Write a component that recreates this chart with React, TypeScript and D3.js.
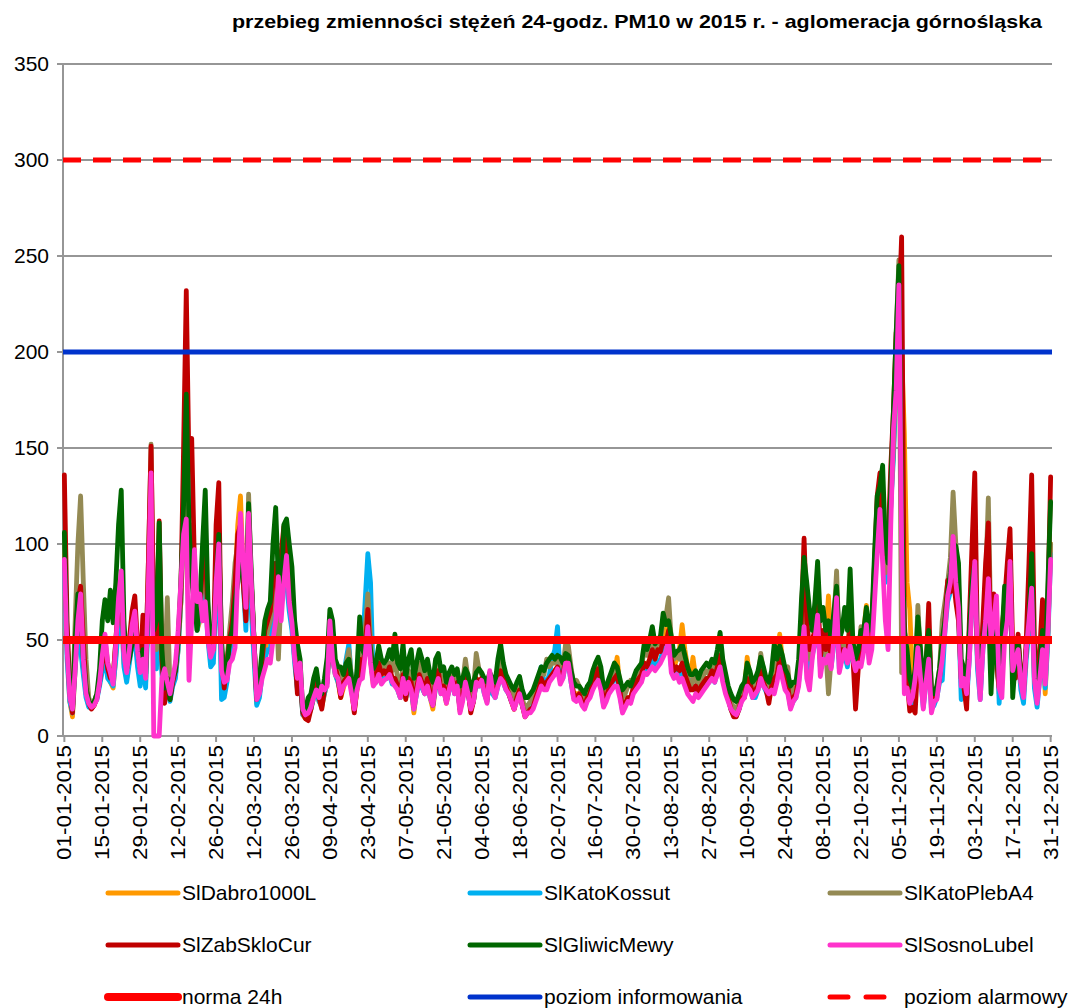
import { useEffect, useRef } from "react";
import * as d3 from "d3";

const title =
  "przebieg zmienności stężeń 24-godz. PM10 w 2015 r. - aglomeracja górnośląska";

// one value per day, 01-01-2015 .. 31-12-2015
const days = d3.timeDay.range(new Date(2015, 0, 1), new Date(2016, 0, 1));
const yTicks = [0, 50, 100, 150, 200, 250, 300, 350];
const labelStep = 14;

// SlDabro1000L
const slDabro1000L = [
  95, 45, 18, 10, 35, 55, 50, 35, 22, 16, 15, 16, 20, 28, 35, 42, 32, 28, 25, 42, 60, 70, 38, 30, 40, 50, 55, 40, 30, 40, 28,
  70, 110, 50, 40, 80, 35, 20, 28, 20, 28, 32, 45, 70, 110, 150, 90, 100, 80, 55, 60, 70, 80, 55, 40, 42, 75, 95, 30,
  22, 30, 45, 55, 80, 110, 125, 85, 60, 100, 70, 45, 17, 22, 35, 45, 50, 50, 65, 75, 60, 70, 90, 85, 70, 60, 40, 25, 30, 11, 9,
  10, 14, 20, 25, 18, 15, 22, 28, 50, 40, 32, 28, 20, 25, 30, 35, 24, 13, 24, 35, 35, 45, 60, 40, 27, 28, 35, 30, 32, 30,
  34, 28, 30, 25, 20, 30, 20, 28, 26, 12, 24, 30, 26, 22, 28, 20, 14, 26, 32, 24, 25, 17, 25, 30, 24, 28, 13, 20, 30, 24, 14,
  18, 30, 28, 30, 24, 18, 32, 25, 21, 28, 33, 30, 26, 22, 18, 14, 20, 24, 16, 11, 12, 14, 15, 20, 24, 30, 26, 28, 30, 32,
  34, 36, 30, 32, 40, 40, 30, 20, 22, 22, 18, 16, 20, 22, 28, 32, 35, 28, 18, 20, 25, 28, 32, 41, 26, 14, 17, 20, 20, 25, 28,
  30, 32, 38, 36, 40, 45, 40, 45, 46, 52, 55, 60, 42, 36, 40, 45, 58, 45, 36, 30, 41, 30, 24, 26, 28, 30, 30, 34, 30, 36, 42,
  32, 26, 20, 14, 11, 11, 15, 20, 24, 41, 30, 22, 24, 26, 35, 28, 24, 20, 28, 34, 36, 53, 40, 30, 28, 16, 20, 22, 30, 50,
  80, 45, 35, 45, 50, 70, 40, 50, 50, 73, 45, 55, 75, 40, 45, 45, 40, 60, 45, 30, 40, 50, 55, 68, 45, 55, 80, 110, 125, 110, 85,
  95, 125, 150, 190, 210, 200, 158, 80, 66, 30, 30, 50, 35, 20, 32, 50, 18, 18, 24, 32, 45, 60, 75, 80, 95, 80, 70, 28, 28, 20,
  45, 80, 95, 40, 22, 50, 70, 90, 45, 60, 65, 22, 50, 60, 70, 95, 35, 40, 50, 28, 22, 45, 60, 85, 35, 20, 35, 50, 22, 55, 100,
];

// SlKatoKossut
const slKatoKossut = [
  90, 40, 18, 12, 35, 55, 45, 32, 20, 15, 16, 17, 19, 26, 34, 40, 30, 28, 26, 40, 58, 68, 36, 28, 38, 48, 52, 36, 26, 38, 25,
  65, 100, 45, 35, 75, 32, 18, 25, 18, 26, 30, 45, 70, 120, 198, 95, 90, 75, 55, 64, 65, 75, 50, 36, 38, 70, 90, 19,
  20, 28, 42, 50, 70, 90, 105, 80, 55, 100, 65, 40, 16, 20, 32, 40, 45, 45, 60, 70, 55, 65, 85, 80, 65, 55, 38, 24, 28, 11, 10,
  11, 14, 20, 24, 18, 16, 22, 28, 50, 40, 32, 28, 22, 30, 40, 48, 28, 14, 26, 38, 45, 70, 95, 80, 30, 28, 34, 28, 30, 30,
  32, 27, 28, 24, 20, 28, 20, 26, 24, 14, 22, 28, 25, 22, 27, 20, 16, 25, 30, 22, 24, 18, 24, 28, 22, 26, 14, 20, 28, 22, 14,
  18, 28, 26, 28, 22, 18, 30, 22, 20, 26, 30, 28, 24, 22, 18, 15, 20, 22, 16, 11, 13, 14, 16, 22, 30, 36, 28, 28, 32, 40,
  45, 57, 32, 30, 38, 38, 28, 20, 20, 21, 17, 15, 19, 21, 26, 30, 32, 26, 16, 19, 24, 27, 30, 30, 22, 13, 16, 19, 18, 24, 27,
  28, 30, 36, 34, 36, 40, 37, 38, 40, 45, 46, 52, 36, 32, 34, 32, 34, 30, 28, 29, 26, 24, 21, 24, 26, 28, 28, 32, 28, 33, 38,
  30, 24, 19, 14, 11, 11, 14, 19, 21, 28, 26, 20, 20, 24, 32, 26, 23, 20, 25, 26, 30, 38, 32, 26, 24, 15, 18, 20, 28, 45,
  70, 40, 30, 42, 48, 60, 36, 45, 40, 45, 36, 48, 68, 35, 40, 42, 36, 50, 40, 28, 36, 40, 45, 60, 40, 50, 80, 105, 120, 105, 80,
  90, 120, 145, 185, 200, 150, 40, 28, 18, 16, 22, 45, 30, 15, 28, 40, 14, 16, 20, 28, 29, 55, 70, 75, 95, 75, 65, 19, 24, 18,
  40, 75, 85, 35, 19, 45, 60, 80, 40, 55, 60, 17, 40, 55, 65, 85, 30, 35, 42, 24, 17, 40, 55, 75, 25, 15, 30, 45, 25, 50, 95,
];

// SlKatoPlebA4
const slKatoPlebA4 = [
  100, 50, 22, 15, 60, 100, 125, 80, 40, 20, 16, 18, 22, 30, 40, 50, 38, 32, 30, 50, 70, 75, 45, 34, 45, 55, 60, 45, 34, 45, 32,
  90, 152, 55, 45, 80, 40, 30, 72, 25, 30, 34, 50, 70, 110, 150, 100, 110, 80, 60, 65, 80, 90, 60, 43, 45, 85, 100, 40,
  30, 40, 55, 70, 90, 100, 110, 80, 65, 126, 80, 50, 20, 28, 40, 50, 55, 60, 70, 80, 40, 75, 100, 95, 80, 70, 45, 30, 35, 13, 12,
  14, 16, 24, 30, 22, 18, 26, 32, 55, 45, 38, 34, 26, 30, 38, 45, 30, 16, 28, 45, 40, 55, 74, 50, 32, 34, 40, 35, 36, 36,
  38, 34, 40, 30, 26, 36, 24, 34, 32, 20, 30, 38, 32, 28, 34, 28, 22, 32, 38, 30, 30, 24, 30, 34, 30, 32, 22, 28, 40, 30, 20,
  24, 43, 35, 32, 28, 24, 32, 28, 24, 34, 40, 34, 30, 26, 22, 20, 24, 28, 20, 14, 16, 18, 20, 24, 30, 34, 32, 40, 36, 38,
  38, 40, 38, 36, 48, 47, 36, 26, 29, 26, 22, 20, 24, 26, 32, 36, 38, 32, 22, 24, 28, 30, 34, 36, 28, 20, 22, 26, 29, 28, 32,
  34, 36, 45, 42, 46, 52, 46, 48, 50, 60, 62, 72, 50, 40, 42, 40, 45, 36, 30, 24, 30, 30, 26, 30, 32, 34, 32, 36, 34, 40, 48,
  36, 30, 24, 18, 15, 14, 18, 24, 24, 36, 32, 26, 28, 30, 43, 34, 28, 24, 30, 40, 36, 45, 40, 34, 36, 20, 24, 26, 34, 55,
  85, 55, 40, 45, 55, 70, 40, 50, 45, 22, 40, 60, 86, 45, 45, 50, 45, 60, 45, 30, 40, 57, 50, 60, 45, 55, 85, 115, 125, 110, 85,
  95, 120, 150, 210, 248, 33, 40, 35, 25, 20, 30, 68, 40, 22, 35, 50, 20, 20, 25, 35, 60, 70, 80, 93, 127, 100, 80, 30, 30, 22,
  50, 80, 80, 40, 25, 55, 80, 124, 50, 65, 35, 25, 55, 60, 70, 90, 28, 40, 48, 28, 22, 45, 60, 90, 30, 20, 35, 50, 30, 55, 100,
];

// SlZabSkloCur
const slZabSkloCur = [
  136, 60, 25, 12, 40, 70, 78, 50, 25, 17, 14, 16, 20, 28, 40, 45, 35, 30, 30, 50, 70, 80, 45, 35, 50, 65, 73, 48, 35, 63, 35,
  90, 151, 60, 50, 112, 40, 17, 30, 19, 28, 34, 50, 75, 150, 232, 140, 155, 90, 60, 65, 90, 100, 60, 43, 45, 110, 132, 40,
  25, 38, 50, 60, 80, 105, 110, 80, 60, 110, 80, 50, 19, 25, 40, 55, 60, 65, 80, 90, 70, 95, 109, 100, 85, 70, 45, 22, 30, 12, 9,
  8, 14, 22, 28, 20, 14, 24, 30, 55, 45, 36, 30, 20, 28, 30, 35, 25, 12, 25, 40, 35, 45, 66, 40, 29, 30, 38, 32, 34, 32,
  36, 30, 30, 26, 22, 32, 19, 30, 28, 15, 25, 32, 28, 24, 30, 22, 16, 28, 34, 24, 26, 18, 26, 30, 24, 28, 14, 20, 30, 24, 12,
  18, 30, 28, 30, 24, 19, 32, 25, 22, 28, 34, 30, 26, 22, 18, 14, 20, 24, 16, 10, 12, 14, 15, 20, 24, 30, 26, 28, 30, 32,
  34, 36, 30, 32, 40, 40, 30, 22, 20, 22, 18, 16, 20, 22, 28, 32, 35, 28, 18, 20, 25, 28, 30, 32, 24, 14, 17, 20, 20, 25, 28,
  30, 32, 38, 36, 40, 45, 40, 45, 44, 50, 48, 55, 40, 34, 36, 34, 38, 32, 28, 24, 24, 26, 22, 26, 28, 30, 30, 34, 30, 36, 42,
  32, 26, 20, 14, 10, 10, 14, 20, 20, 30, 28, 22, 24, 26, 34, 28, 24, 17, 26, 30, 32, 40, 34, 28, 26, 16, 20, 22, 30, 60,
  103, 60, 45, 50, 55, 80, 40, 55, 45, 55, 40, 55, 75, 40, 45, 42, 40, 60, 42, 14, 35, 45, 50, 60, 45, 55, 90, 125, 137, 110, 95,
  100, 140, 170, 210, 220, 260, 60, 30, 13, 15, 12, 40, 35, 20, 35, 69, 20, 18, 22, 30, 45, 60, 81, 75, 85, 70, 60, 30, 25, 14,
  60, 100, 137, 45, 25, 60, 90, 111, 35, 74, 40, 25, 55, 70, 90, 108, 45, 30, 53, 30, 25, 50, 90, 136, 50, 22, 45, 71, 35, 70, 135,
];

// SlGliwicMewy
const slGliwicMewy = [
  106, 50, 22, 14, 50, 74, 60, 40, 25, 18, 16, 18, 22, 35, 60, 71, 60, 76, 59, 80, 110, 128, 60, 35, 40, 48, 55, 45, 35, 45, 32,
  70, 100, 55, 60, 111, 45, 25, 30, 19, 30, 34, 50, 80, 120, 178, 110, 80, 70, 55, 70, 100, 128, 70, 45, 50, 80, 105, 50,
  30, 35, 50, 55, 70, 80, 90, 85, 70, 121, 85, 50, 20, 30, 45, 60, 66, 70, 100, 119, 80, 70, 110, 113, 100, 88, 60, 48, 40, 13, 14,
  20, 22, 30, 35, 25, 22, 30, 41, 66, 60, 40, 36, 36, 32, 38, 40, 30, 18, 35, 62, 45, 42, 55, 45, 35, 38, 47, 40, 38, 40,
  45, 40, 53, 38, 35, 48, 30, 40, 45, 30, 38, 45, 40, 34, 40, 32, 28, 40, 43, 34, 36, 28, 33, 36, 32, 35, 26, 30, 35, 32, 24,
  28, 33, 35, 33, 30, 28, 33, 30, 28, 40, 48, 38, 32, 29, 26, 24, 28, 31, 24, 20, 20, 22, 24, 28, 32, 36, 34, 38, 40, 42,
  40, 42, 41, 38, 43, 42, 34, 28, 26, 26, 24, 22, 26, 28, 34, 38, 41, 36, 25, 26, 30, 34, 38, 36, 30, 24, 26, 28, 26, 30, 34,
  36, 38, 48, 45, 50, 57, 48, 50, 52, 64, 58, 60, 52, 42, 44, 45, 48, 42, 36, 32, 32, 34, 30, 34, 36, 38, 36, 40, 38, 45, 54,
  40, 33, 26, 22, 19, 18, 22, 26, 28, 38, 34, 28, 30, 34, 41, 36, 30, 28, 34, 48, 40, 47, 42, 35, 32, 26, 28, 28, 40, 70,
  93, 80, 66, 55, 70, 91, 60, 67, 55, 60, 50, 65, 78, 50, 55, 67, 55, 87, 50, 40, 45, 55, 55, 67, 55, 60, 95, 125, 130, 141, 100,
  90, 130, 170, 210, 245, 120, 55, 45, 30, 25, 35, 62, 45, 25, 40, 55, 25, 22, 26, 35, 50, 60, 75, 85, 100, 99, 90, 40, 35, 25,
  55, 80, 90, 45, 30, 50, 60, 70, 22, 55, 40, 30, 50, 78, 65, 90, 20, 40, 50, 30, 25, 45, 60, 95, 40, 25, 35, 55, 35, 80, 122,
];

// SlSosnoLubel
const slSosnoLubel = [
  92, 45, 20, 14, 35, 60, 74, 40, 22, 17, 15, 16, 19, 28, 42, 53, 38, 33, 27, 48, 72, 86, 42, 33, 45, 58, 65, 44, 33, 40, 30,
  78, 137, 0, 0, 0, 30, 35, 28, 22, 30, 38, 55, 80, 105, 113, 29, 60, 97, 70, 74, 60, 70, 50, 41, 45, 80, 100, 34,
  28, 29, 38, 40, 46, 85, 116, 90, 67, 116, 80, 48, 19, 22, 30, 35, 40, 38, 50, 60, 83, 60, 80, 94, 70, 59, 40, 30, 38, 14, 11,
  12, 15, 20, 24, 20, 26, 24, 26, 60, 40, 32, 30, 22, 26, 28, 30, 22, 14, 24, 29, 30, 42, 57, 38, 26, 28, 32, 27, 29, 30,
  32, 28, 26, 24, 20, 30, 22, 28, 24, 14, 22, 30, 26, 22, 26, 20, 16, 26, 30, 22, 24, 17, 24, 30, 22, 26, 12, 18, 28, 22, 14,
  18, 28, 26, 29, 22, 17, 34, 24, 20, 26, 30, 28, 24, 22, 18, 14, 18, 22, 16, 10, 12, 12, 14, 18, 22, 26, 24, 24, 28, 30,
  32, 35, 27, 30, 38, 38, 28, 19, 18, 20, 16, 14, 18, 20, 24, 27, 29, 24, 15, 18, 22, 24, 26, 26, 20, 12, 15, 18, 17, 22, 24,
  26, 28, 33, 32, 34, 36, 34, 36, 38, 41, 44, 50, 33, 30, 32, 28, 30, 26, 22, 20, 18, 22, 20, 22, 24, 26, 28, 30, 28, 32, 36,
  28, 22, 18, 14, 12, 11, 14, 18, 20, 26, 24, 20, 22, 24, 30, 26, 24, 22, 24, 22, 28, 36, 30, 24, 22, 14, 18, 20, 26, 40,
  57, 30, 24, 40, 50, 63, 31, 40, 38, 42, 35, 50, 72, 33, 40, 45, 38, 47, 40, 34, 38, 36, 44, 58, 38, 45, 70, 95, 118, 90, 60,
  45, 110, 160, 180, 235, 100, 22, 25, 17, 20, 30, 46, 30, 14, 28, 40, 12, 18, 19, 30, 40, 55, 73, 80, 104, 80, 67, 26, 30, 22,
  40, 70, 91, 40, 19, 45, 60, 82, 50, 60, 73, 25, 20, 50, 60, 91, 34, 40, 45, 28, 20, 45, 60, 77, 30, 17, 30, 45, 27, 55, 92,
];

const seriesNames = [
  "SlDabro1000L",
  "SlKatoKossut",
  "SlKatoPlebA4",
  "SlZabSkloCur",
  "SlGliwicMewy",
  "SlSosnoLubel",
];
const seriesValues = [
  slDabro1000L,
  slKatoKossut,
  slKatoPlebA4,
  slZabSkloCur,
  slGliwicMewy,
  slSosnoLubel,
];
const seriesColors = ["#FF9900", "#00B0F0", "#948A54", "#C00000", "#006600", "#FF33CC"];

// limit lines
const limitNames = ["norma 24h", "poziom informowania", "poziom alarmowy"];
const limitValues = [50, 200, 300];
const limitColors = ["#FF0000", "#0033CC", "#FF0000"];

export default function App() {
  const svgRef = useRef<SVGSVGElement>(null);

  useEffect(() => {
    if (!svgRef.current) return;
    const width = 1073;
    const height = 1008;
    const margin = { top: 64, right: 21, bottom: 272, left: 63 };
    const font = "Arial, 'Liberation Sans', sans-serif";
    const grid = "#969696";

    const svg = d3.select(svgRef.current);
    svg.selectAll("*").remove();

    const x = d3
      .scaleLinear()
      .domain([-0.5, days.length - 0.5])
      .range([margin.left, width - margin.right]);
    const y = d3
      .scaleLinear()
      .domain([0, 350])
      .range([height - margin.bottom, margin.top]);

    // Title
    svg
      .append("text")
      .attr("x", 1042)
      .attr("y", 28)
      .attr("text-anchor", "end")
      .attr("textLength", 810)
      .attr("lengthAdjust", "spacingAndGlyphs")
      .style("font-family", font)
      .style("font-size", "19px")
      .style("font-weight", "bold")
      .text(title);

    // Horizontal grid
    svg
      .append("g")
      .selectAll("line")
      .data(yTicks.filter((d) => d > 0))
      .enter()
      .append("line")
      .attr("x1", margin.left)
      .attr("x2", width - margin.right)
      .attr("y1", (d) => y(d))
      .attr("y2", (d) => y(d))
      .style("stroke", grid)
      .style("stroke-width", "2px");

    // Y axis
    const yAxis = svg.append("g");
    yAxis
      .append("line")
      .attr("x1", margin.left)
      .attr("x2", margin.left)
      .attr("y1", y(350))
      .attr("y2", y(0))
      .style("stroke", grid)
      .style("stroke-width", "2px");
    yTicks.forEach((t) => {
      yAxis
        .append("line")
        .attr("x1", margin.left - 6)
        .attr("x2", margin.left)
        .attr("y1", y(t))
        .attr("y2", y(t))
        .style("stroke", grid)
        .style("stroke-width", "2px");
      yAxis
        .append("text")
        .attr("x", margin.left - 14)
        .attr("y", y(t))
        .attr("dy", "0.35em")
        .attr("text-anchor", "end")
        .style("font-family", font)
        .style("font-size", "21px")
        .text(t);
    });

    // X axis, labels every 14 days
    const fmt = d3.timeFormat("%d-%m-%Y");
    const labelIdx = d3.range(0, days.length, labelStep);
    const xAxis = svg.append("g");
    xAxis
      .append("line")
      .attr("x1", margin.left)
      .attr("x2", width - margin.right)
      .attr("y1", y(0))
      .attr("y2", y(0))
      .style("stroke", grid)
      .style("stroke-width", "2px");
    labelIdx.forEach((i) => {
      const px = x(i);
      xAxis
        .append("line")
        .attr("x1", px)
        .attr("x2", px)
        .attr("y1", y(0))
        .attr("y2", y(0) + 6)
        .style("stroke", grid)
        .style("stroke-width", "2px");
      xAxis
        .append("text")
        .attr("transform", `translate(${px + 7},${y(0) + 9}) rotate(-90)`)
        .attr("text-anchor", "end")
        .attr("textLength", 115)
        .attr("lengthAdjust", "spacingAndGlyphs")
        .style("font-family", font)
        .style("font-size", "21px")
        .text(fmt(days[i]));
    });

    // Series
    const line = d3
      .line<number>()
      .x((_, i) => x(i))
      .y((d) => y(d));
    seriesValues.forEach((vals, k) => {
      svg
        .append("path")
        .datum(vals)
        .attr("d", line)
        .style("fill", "none")
        .style("stroke", seriesColors[k])
        .style("stroke-width", "4.8px")
        .style("stroke-linejoin", "round")
        .style("stroke-linecap", "round");
    });

    // Limit lines
    limitValues.forEach((v, k) => {
      svg
        .append("line")
        .attr("x1", margin.left)
        .attr("x2", width - margin.right)
        .attr("y1", y(v))
        .attr("y2", y(v))
        .style("stroke", limitColors[k])
        .style("stroke-width", k === 0 ? "8px" : "5px")
        .style("stroke-dasharray", k === 2 ? "18,12" : null);
    });

    // Legend
    const items = [
      ...seriesNames.map((n, k) => ({ name: n, color: seriesColors[k], w: 5, dash: null as string | null })),
      ...limitNames.map((n, k) => ({
        name: n,
        color: limitColors[k],
        w: k === 0 ? 8 : 5,
        dash: k === 2 ? "18,18" : null,
      })),
    ];
    const colX = [108, 470, 830];
    const rowY = [893, 945, 997];
    items.forEach((it, k) => {
      const lx = colX[k % 3];
      const ly = rowY[Math.floor(k / 3)];
      svg
        .append("line")
        .attr("x1", lx)
        .attr("x2", lx + 70)
        .attr("y1", ly)
        .attr("y2", ly)
        .style("stroke", it.color)
        .style("stroke-width", `${it.w}px`)
        .style("stroke-linecap", "round")
        .style("stroke-dasharray", it.dash);
      svg
        .append("text")
        .attr("x", lx + 74)
        .attr("y", ly)
        .attr("dy", "0.35em")
        .style("font-family", font)
        .style("font-size", "21px")
        .text(it.name);
    });
  }, []);

  return (
    <svg
      ref={svgRef}
      width={1073}
      height={1008}
      style={{ position: "absolute", left: 0, top: 0, background: "#fff" }}
    />
  );
}
